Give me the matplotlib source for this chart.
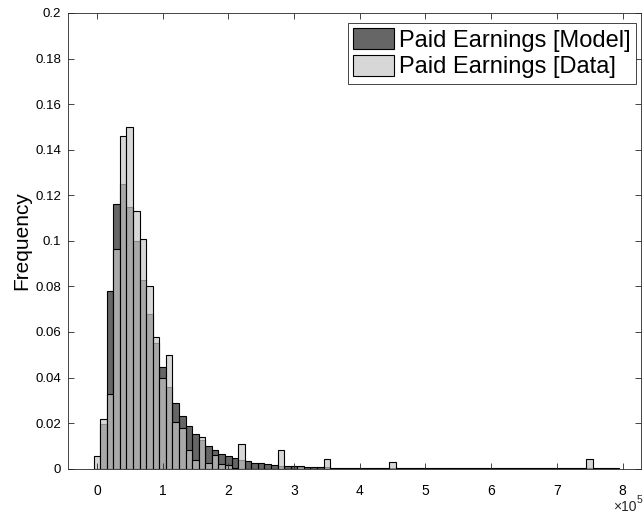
import matplotlib
matplotlib.use("Agg")
import matplotlib.pyplot as plt
import numpy as np

plt.rcParams['font.family'] = ['Liberation Sans', 'DejaVu Sans']

# bin centres (in units of 1e5), one bin every 0.1e5
bin_centers = np.arange(80) * 0.1
bin_width = 0.1

model_freq = [
    0.0, 0.0195, 0.078, 0.116, 0.125, 0.115, 0.100, 0.083, 0.068, 0.055,
    0.0445, 0.0357, 0.029, 0.023, 0.0189, 0.0152, 0.0125, 0.0101, 0.0082, 0.0066,
    0.0055, 0.0045, 0.0039, 0.0032, 0.0027, 0.0024, 0.0019, 0.0015, 0.0013, 0.0012,
    0.0010, 0.0009, 0.0008, 0.0007, 0.0006, 0.0006, 0.0005, 0.0005, 0.0004, 0.0004,
    0.0004, 0.0003, 0.0003, 0.0003, 0.0003, 0.0003, 0.0002, 0.0002, 0.0002, 0.0002,
    0.0002, 0.0002, 0.0002, 0.0002, 0.0001, 0.0001, 0.0001, 0.0001, 0.0001, 0.0001,
    0.0001, 0.0001, 0.0001, 0.0001, 0.0001, 0.0001, 0.0001, 0.0001, 0.0001, 0.0001,
    0.0001, 0.0001, 0.0001, 0.0001, 0.0001, 0.0001, 0.0001, 0.0001, 0.0001, 0.0001,
]
data_freq = [
    0.0056, 0.022, 0.033, 0.0965, 0.146, 0.150, 0.113, 0.101, 0.080, 0.058,
    0.0397, 0.050, 0.0204, 0.0177, 0.0081, 0.004, 0.0138, 0.0025, 0.0060, 0.0020,
    0.0015, 0.0005, 0.011, 0.0, 0.0, 0.0, 0.0, 0.0, 0.0082, 0.0,
    0.0, 0.001, 0.0, 0.0, 0.0, 0.0041, 0.0, 0.0, 0.0, 0.0,
    0.0, 0.0, 0.0, 0.0, 0.0, 0.0028, 0.0, 0.0, 0.0, 0.0,
    0.0, 0.0, 0.0, 0.0, 0.0, 0.0, 0.0, 0.0, 0.0, 0.0,
    0.0, 0.0, 0.0, 0.0, 0.0, 0.0, 0.0, 0.0, 0.0, 0.0,
    0.0, 0.0, 0.0, 0.0, 0.0, 0.0041, 0.0, 0.0, 0.0, 0.0,
]

fig = plt.figure(figsize=(6.44, 5.17), dpi=100)
ax = fig.add_axes([68 / 644, 48.3 / 517, 573 / 644, 455.7 / 517])

ax.bar(bin_centers, model_freq, width=bin_width, color=(0, 0, 0, 0.6),
       edgecolor='black', linewidth=0.8, label="Paid Earnings [Model]")
ax.bar(bin_centers, data_freq, width=bin_width, color=(0.78, 0.78, 0.78, 0.7),
       edgecolor='black', linewidth=0.8, label="Paid Earnings [Data]")

ax.set_xlim(-0.44, 8.28)
ax.set_ylim(0, 0.2)
ax.set_xticks(range(0, 9))
ax.set_yticks(np.arange(0, 0.201, 0.02))
ax.set_yticklabels(["0", "0.02", "0.04", "0.06", "0.08", "0.1", "0.12", "0.14", "0.16", "0.18", "0.2"])
ax.tick_params(direction='in', top=True, right=True, length=4, width=0.6, color='#262626')
ax.tick_params(axis='x', labelsize=10, pad=11)
ax.tick_params(axis='y', labelsize=9.5, pad=5)
for s in ax.spines.values():
    s.set_linewidth(0.6)
    s.set_color('#262626')

ax.set_ylabel("Frequency", fontsize=15, labelpad=3)

fig.text(613 / 644, 1 - 507 / 517, "×10", fontsize=10, ha='left', va='center', color='#262626')
fig.text(637 / 644, 1 - 500 / 517, "5", fontsize=7.5, ha='left', va='center', color='#262626')

leg = ax.legend(loc='upper right', bbox_to_anchor=(636 / 644, 1 - 23 / 517),
                bbox_transform=fig.transFigure, fontsize=17, fancybox=False, framealpha=1,
                edgecolor='#262626', borderpad=0.22, handlelength=1.75, handleheight=1.0,
                handletextpad=0.2, labelspacing=0.12, borderaxespad=0)
leg.get_frame().set_linewidth(0.6)

plt.savefig("out.png", dpi=100)
